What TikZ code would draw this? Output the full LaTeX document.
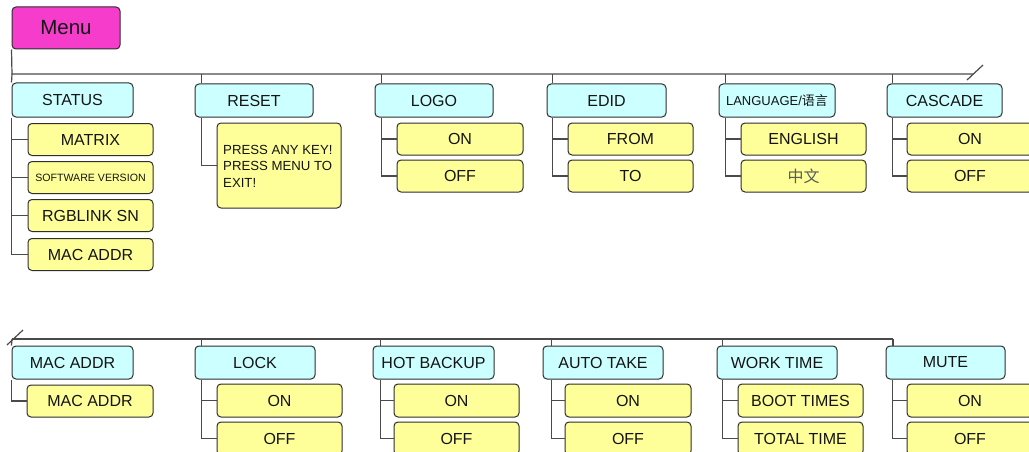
\documentclass[tikz,border=0pt]{standalone}
\usepackage{fontspec}
\setmainfont{Liberation Sans}
\newfontfamily\cjk{Noto Sans CJK SC}
\definecolor{menufill}{HTML}{F53CCB}
\definecolor{catfill}{HTML}{CCFFFF}
\definecolor{optfill}{HTML}{FFFF99}
\definecolor{edge}{HTML}{2E2E2E}
\definecolor{wire}{HTML}{4A4A4A}
\definecolor{ink}{HTML}{141414}
\tikzset{
  box/.style={draw=edge, line width=1pt, rounded corners=4pt, inner sep=0pt,
              text=ink, font=\fontsize{16}{18}\selectfont},
  menubox/.style={box, fill=menufill, minimum width=108pt, minimum height=42pt,
                  font=\fontsize{20.5}{24}\selectfont},
  catbox/.style={box, fill=catfill, minimum height=33pt},
  optbox/.style={box, fill=optfill, minimum width=125pt, minimum height=32pt},
  wireline/.style={draw=wire, line width=1.2pt},
}
\begin{document}
\begin{tikzpicture}[x=1pt, y=-1pt]
\clip (0,0) rectangle (1029,452);
\fill[white] (0,0) rectangle (1029,452);

% ---------- top level ----------
\node[menubox] (menu) at (66,28) {Menu};

% ---------- first row ----------
\node[catbox, minimum width=121pt, minimum height=34pt] (status) at (72.5,100) {STATUS};
\node[optbox] (matrix) at (90.5,139.5) {MATRIX};
\node[optbox, font=\fontsize{10.6}{12}\selectfont] (swver) at (90.5,177.5) {SOFTWARE VERSION};
\node[optbox] (sn) at (90.5,215.5) {RGBLINK SN};
\node[optbox] (mac) at (90.5,254.5) {MAC ADDR};

\node[catbox, minimum width=118pt] (reset) at (254,100.5) {RESET};
\node[optbox, minimum width=124pt, minimum height=85pt] (press) at (279,165.5) {};
\node[anchor=west, inner sep=0pt, text=ink, align=left,
      font=\fontsize{13.2}{16.5}\selectfont] (presstext) at (223,166)
      {PRESS ANY KEY!\\PRESS MENU TO\\EXIT!};

\node[catbox, minimum width=118pt] (logo) at (434,100.5) {LOGO};
\node[optbox, minimum width=126pt] (logoon) at (460,139) {ON};
\node[optbox, minimum width=126pt] (logooff) at (460,176) {OFF};

\node[catbox, minimum width=119pt] (edid) at (606.5,100.5) {EDID};
\node[optbox] (from) at (630.5,139) {FROM};
\node[optbox] (to) at (630.5,176) {TO};

\node[catbox, minimum width=116pt, font=\fontsize{13}{15}\selectfont] (lang) at (777,100.5)
      {LANGUAGE/{\cjk 语言}};
\node[optbox] (english) at (803.5,139) {ENGLISH};
\node[optbox, text=ink!70] (chinese) at (803.5,176) {\cjk 中文};

\node[catbox, minimum width=115pt] (cascade) at (944.5,100.5) {CASCADE};
\node[optbox, minimum width=126pt] (cascon) at (970,139) {ON};
\node[optbox, minimum width=126pt] (cascoff) at (970,176) {OFF};

% ---------- second row ----------
\node[catbox, minimum width=121pt] (mac2) at (72.5,362.5) {MAC ADDR};
\node[optbox, minimum width=126pt] (mac2v) at (90,401) {MAC ADDR};

\node[catbox, minimum width=120pt] (lock) at (255,362.5) {LOCK};
\node[optbox, minimum height=33pt] (lockon) at (279.5,400.5) {ON};
\node[optbox, minimum height=33pt] (lockoff) at (279.5,438.5) {OFF};

\node[catbox, minimum width=121pt] (hot) at (433.5,362.5) {HOT BACKUP};
\node[optbox, minimum height=33pt] (hoton) at (456.5,400.5) {ON};
\node[optbox, minimum height=33pt] (hotoff) at (456.5,438.5) {OFF};

\node[catbox, minimum width=120pt] (auto) at (603,362.5) {AUTO TAKE};
\node[optbox, minimum width=126pt, minimum height=33pt] (autoon) at (628,400.5) {ON};
\node[optbox, minimum width=126pt, minimum height=33pt] (autooff) at (628,438.5) {OFF};

\node[catbox, minimum width=120pt] (work) at (777,362.5) {WORK TIME};
\node[optbox, minimum height=33pt] (boot) at (800.5,400.5) {BOOT TIMES};
\node[optbox, minimum height=33pt] (total) at (800.5,438.5) {TOTAL TIME};

\node[catbox, minimum width=119pt] (mute) at (945.5,362.5) {MUTE};
\node[optbox, minimum width=126pt, minimum height=33pt] (muteon) at (970,400.5) {ON};
\node[optbox, minimum width=126pt, minimum height=33pt] (muteoff) at (970,438.5) {OFF};

% ---------- buses ----------
\coordinate (busA) at (12,74);
\coordinate (busAend) at (973,74);
\coordinate (cutA1) at (967,80);
\coordinate (cutA2) at (983,65);
\coordinate (busB) at (12,339);
\coordinate (busBend) at (893,339);
\coordinate (cutB1) at (7,345);
\coordinate (cutB2) at (23,330);

\begin{scope}[wireline]
  \draw (menu.south west) -- (busA) -- (busAend);
  \draw (cutA1) -- (cutA2);
  \draw (busB) -- (busBend);
  \draw (cutB1) -- (cutB2);

  % drops from the upper bus
  \draw (busA) -- (status.north west);
  \foreach \n/\dx in {reset/7, logo/7, edid/6, lang/7, cascade/6}
    \draw ([xshift=\dx pt]\n.north west |- busA) -- ([xshift=\dx pt]\n.north west);

  % drops from the lower bus
  \draw (busB) -- (mac2.north west);
  \foreach \n/\dx in {lock/7, hot/8, auto/9, work/6}
    \draw ([xshift=\dx pt]\n.north west |- busB) -- ([xshift=\dx pt]\n.north west);
  \draw (busBend) -- (busBend |- mute.north);

  % branches to the options
  \draw (status.south west) |- (mac.west);
  \foreach \c in {matrix, swver, sn}
    \draw (status.south west |- \c.west) -- (\c.west);

  \draw ([xshift=7pt]reset.south west) |- (press.west);

  \draw ([xshift=7pt]logo.south west) |- (logooff.west);
  \draw ([xshift=7pt]logo.south west |- logoon.west) -- (logoon.west);

  \draw ([xshift=6pt]edid.south west) |- (to.west);
  \draw ([xshift=6pt]edid.south west |- from.west) -- (from.west);

  \draw ([xshift=7pt]lang.south west) |- (chinese.west);
  \draw ([xshift=7pt]lang.south west |- english.west) -- (english.west);

  \draw ([xshift=6pt]cascade.south west) |- (cascoff.west);
  \draw ([xshift=6pt]cascade.south west |- cascon.west) -- (cascon.west);

  \draw (mac2.south west) |- (mac2v.west);

  \draw ([xshift=7pt]lock.south west) |- (lockoff.west);
  \draw ([xshift=7pt]lock.south west |- lockon.west) -- (lockon.west);

  \draw ([xshift=8pt]hot.south west) |- (hotoff.west);
  \draw ([xshift=8pt]hot.south west |- hoton.west) -- (hoton.west);

  \draw ([xshift=9pt]auto.south west) |- (autooff.west);
  \draw ([xshift=9pt]auto.south west |- autoon.west) -- (autoon.west);

  \draw ([xshift=6pt]work.south west) |- (total.west);
  \draw ([xshift=6pt]work.south west |- boot.west) -- (boot.west);

  \draw ([xshift=7pt]mute.south west) |- (muteoff.west);
  \draw ([xshift=7pt]mute.south west |- muteon.west) -- (muteon.west);
\end{scope}
\end{tikzpicture}
\end{document}
